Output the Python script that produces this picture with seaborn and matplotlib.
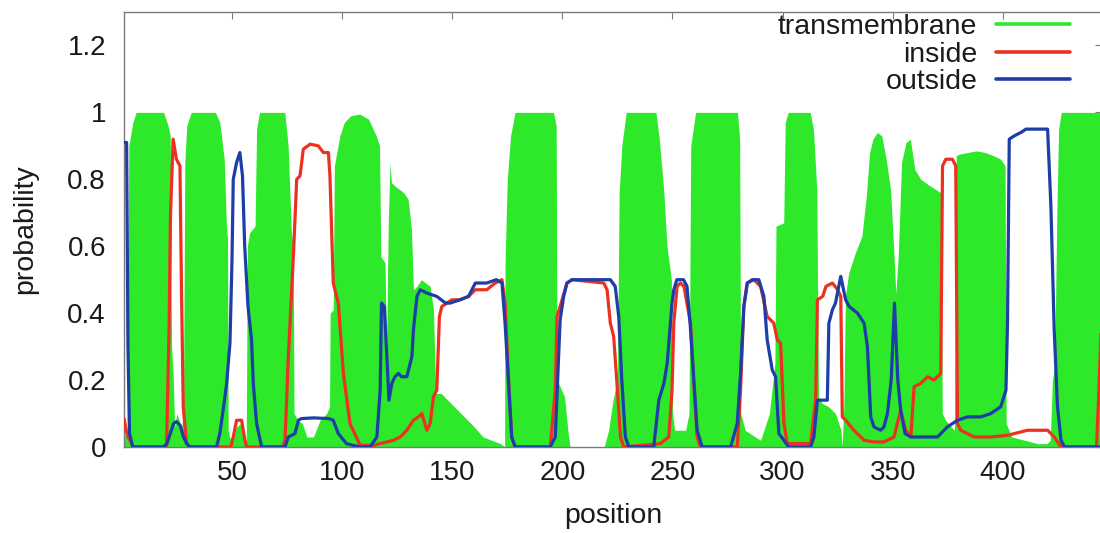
import matplotlib
matplotlib.use("Agg")
import matplotlib.pyplot as plt
from matplotlib.lines import Line2D
from matplotlib.ticker import FuncFormatter
import seaborn as sns

# ---------------- data ----------------
# transmembrane posterior probability (knots along the sequence)
tm_pos = [1, 1.5, 2.5, 3.2, 5, 6.5, 19, 21, 22, 22.6, 23.3, 24, 25, 26, 27, 28, 28.6, 29.5, 31.5,
          42.5, 44.5, 46.5, 47.5, 48, 48.3, 49, 50, 52, 54, 55.5, 56.5, 57, 58, 60.5, 61.2, 62.5,
          74, 75.5, 77, 77.8, 78.2, 80, 82, 84, 87, 90, 93, 94.3, 94.6, 96, 96.5, 99, 101, 104,
          108, 112, 115.5, 117, 117.6, 118.5, 119.5, 120.2, 121, 121.8, 122.4, 124, 126, 128, 130,
          131.5, 132.4, 134, 136, 138, 140, 141.5, 142.5, 145, 148, 151, 154, 157, 160, 164, 168,
          172, 173.8, 174, 175, 176.5, 178.5, 196, 197.2, 197.6, 199, 201, 202.5, 203.5, 219,
          221, 223, 225, 225.8, 227, 229, 242.5, 244, 246, 247.5, 249.5, 250, 251, 256, 257.5,
          258.3, 260.5, 279.5, 280.5, 281, 283, 290, 294, 296.5, 297, 300.5, 301.2, 302.5,
          312.5, 314, 315.5, 316.3, 318, 321, 324, 326.5, 327, 327.8, 328.5, 330, 333, 336, 338,
          339.5, 341, 343, 345, 347, 349, 350.6, 351.4, 352.5, 354, 356, 358, 360, 362.7, 367,
          371.8, 372.5, 374, 378, 378.8, 380, 384, 388, 392, 396, 399, 401, 401.5, 404, 410,
          416, 420, 421.5, 422.5, 423.5, 424.5, 425.3, 426.5, 445]
tm_val = [0.0, 0.05, 0.05, 0.9, 0.97, 1.0, 1.0, 0.96, 0.93, 0.3, 0.22, 0.06, 0.1, 0.08, 0.05, 0.1,
          0.85, 0.96, 1.0,
          1.0, 0.97, 0.86, 0.66, 0.62, 0.05, 0.03, 0.01, 0.06, 0.07, 0.03, 0.02, 0.6, 0.64, 0.66,
          0.95, 1.0,
          1.0, 0.9, 0.64, 0.6, 0.1, 0.08, 0.07, 0.03, 0.03, 0.08, 0.1, 0.12, 0.4, 0.41, 0.84,
          0.93, 0.97, 0.99,
          0.995, 0.98, 0.93, 0.9, 0.57, 0.56, 0.55, 0.3, 0.68, 0.85, 0.79, 0.78, 0.77, 0.76, 0.74,
          0.65, 0.47, 0.48, 0.5, 0.49, 0.48, 0.41, 0.16, 0.16, 0.14, 0.12, 0.1, 0.08, 0.06, 0.03,
          0.02,
          0.01, 0.0, 0.55, 0.8, 0.93, 1.0, 1.0, 0.96, 0.2, 0.18, 0.15, 0.05, 0.0, 0.0,
          0.05, 0.14, 0.2, 0.76, 0.9, 1.0, 1.0, 0.92, 0.77, 0.6, 0.5, 0.1, 0.05, 0.05, 0.1,
          0.9, 1.0, 1.0, 0.92, 0.1, 0.05, 0.02, 0.1, 0.25, 0.66, 0.67, 0.97, 1.0,
          1.0, 0.95, 0.77, 0.15, 0.13, 0.12, 0.1, 0.05, 0.0, 0.12, 0.45, 0.52, 0.58, 0.63, 0.75,
          0.88, 0.92, 0.94, 0.93, 0.86, 0.77, 0.57, 0.46, 0.57, 0.85, 0.91, 0.92, 0.83, 0.8, 0.78,
          0.76, 0.1, 0.08, 0.05, 0.87, 0.875, 0.88, 0.885, 0.88, 0.87, 0.86, 0.84, 0.07, 0.03,
          0.02,
          0.01, 0.01, 0.02, 0.2, 0.24, 0.7, 0.95, 1.0, 1.0]

# inside posterior probability
in_pos = [1, 2, 2.9, 5.2, 20.3, 21.5, 22.1, 23.3, 24.8, 26.4, 27.1, 27.9, 29.4, 31, 49.5, 50.6,
          52.1, 54.4, 55.9, 56.7, 73, 74.1, 75.6, 77.9, 79.4, 80.9, 82.4, 85.5, 89.2, 91.5, 93.8,
          94.5, 96, 98.3, 100.6, 103.6, 108.2, 114.2, 120.3, 123.3, 126.4, 129.4, 132.4, 134.7,
          136.2, 138.5, 140, 141.5, 143, 144.2, 145.3, 147.6, 149.8, 153.6, 157.4, 160.5, 165.7,
          169.5, 172.6, 174, 175.6, 177, 178.6, 194.5, 196.8, 197.6, 199, 202.1, 204.4, 218.8,
          220.3, 221.8, 223.3, 224.8, 226.4, 227.9, 244.5, 248.3, 249.8, 250.6, 252.1, 253.6,
          255.2, 258.2, 259.7, 261.2, 262.7, 279.4, 280.9, 282.4, 283.9, 287, 290, 293, 296,
          297.6, 299.1, 300.6, 302.1, 312.7, 315, 315.8, 318.2, 319.7, 322.6, 325, 326.4, 327.1,
          328.6, 332.4, 337, 341.5, 346, 350.6, 353.6, 355.9, 358.2, 359.7, 362.7, 365.8, 368.8,
          371.8, 372.6, 374.1, 377.1, 378.6, 379.4, 380.9, 387, 394.5, 402.1, 405.2, 411.2,
          420.3, 423.3, 426.4, 442.5, 443.5, 445]
in_val = [0.085, 0.05, 0.03, 0.0, 0.0, 0.37, 0.69, 0.92, 0.86, 0.84, 0.47, 0.12, 0.01, 0.0, 0.0,
          0.03, 0.08, 0.08, 0.02, 0.0, 0.0, 0.02, 0.27, 0.57, 0.8, 0.81, 0.89, 0.905, 0.9, 0.88,
          0.88, 0.81, 0.49, 0.43, 0.22, 0.07, 0.005, 0.005, 0.015, 0.02, 0.03, 0.05, 0.08, 0.09,
          0.1, 0.05, 0.07, 0.15, 0.17, 0.39, 0.42, 0.43, 0.44, 0.44, 0.45, 0.47, 0.47,
          0.49, 0.5, 0.43, 0.2, 0.03, 0.0, 0.0, 0.17, 0.39, 0.42, 0.49, 0.5, 0.49,
          0.47, 0.37, 0.33, 0.19, 0.03, 0.0, 0.01, 0.03, 0.17, 0.37, 0.48, 0.49,
          0.48, 0.37, 0.19, 0.03, 0.0, 0.0, 0.17, 0.42, 0.49, 0.5, 0.48, 0.39, 0.37,
          0.32, 0.31, 0.07, 0.01, 0.01, 0.14, 0.44, 0.45, 0.48, 0.49, 0.47, 0.45, 0.09,
          0.08, 0.05, 0.02, 0.015, 0.015, 0.03, 0.11, 0.05, 0.03, 0.18, 0.19, 0.21, 0.2,
          0.22, 0.84, 0.86, 0.86, 0.84, 0.07, 0.05, 0.03, 0.03, 0.035, 0.04, 0.05,
          0.05, 0.03, 0.0, 0.0, 0.15, 0.42]

# outside posterior probability
out_pos = [1, 2.2, 2.8, 3.5, 5, 18.8, 20.5, 22, 23.5, 24.8, 26.5, 28, 29.5, 31, 43, 44.5, 46,
           47.6, 49.1, 50, 50.6, 52.1, 53.6, 54.8, 55.8, 57.3, 58.9, 59.7, 61.2, 63.5, 74.1, 75.6,
           78.6, 80.2, 81.5, 87, 94, 96, 98.3, 102, 108, 112.7, 115.8, 117.3, 117.9, 119.2,
           121.3, 122.6, 124, 125.6, 127, 129.4, 131.7, 132.4, 134, 135.5, 138.5, 143, 147, 149,
           153.6, 157.4, 160.5, 165.7, 170, 172.6, 174, 175.6, 177, 178.6, 194.5, 196.8, 198.3,
           199, 200.6, 202.1, 204.4, 221.8, 224, 225.6, 227, 228.6, 230.2, 241.5, 243.8, 246.1,
           247.6, 249.8, 250.6, 252, 255, 256.6, 258, 259.7, 261.2, 263.5, 276.4, 279.4, 280.9,
           282.4, 284, 286.2, 289.2, 291.5, 293, 295.3, 296.8, 298.3, 300.6, 302.7, 312.7,
           314.2, 315.8, 320.3, 321, 322.6, 324, 326.4, 328.6, 330.2, 334, 337, 338.5, 340,
           341.5, 344.5, 346, 347.6, 349.3, 350.8, 352.3, 353.6, 355.6, 358.2, 370.3, 374.8,
           379.4, 383.9, 390, 394.5, 399, 401.4, 402.1, 402.9, 405.2, 408.2, 410.5, 420.3,
           421.8, 423.3, 424.8, 426.4, 428, 445]
out_val = [0.91, 0.91, 0.3, 0.04, 0.0, 0.0, 0.01, 0.04, 0.07, 0.076, 0.065, 0.03, 0.01, 0.0, 0.0,
           0.04, 0.11, 0.19, 0.31, 0.55, 0.8, 0.85, 0.88, 0.81, 0.6, 0.42, 0.32, 0.19, 0.07, 0.0,
           0.0, 0.03, 0.04, 0.08, 0.085, 0.087, 0.085, 0.08, 0.04, 0.01, 0.0, 0.0, 0.03, 0.17,
           0.43, 0.42, 0.14, 0.19, 0.21, 0.22, 0.21, 0.21, 0.27, 0.35, 0.45, 0.47, 0.46, 0.45,
           0.43, 0.43, 0.44, 0.45, 0.49, 0.49, 0.5, 0.49, 0.37, 0.19, 0.03, 0.0, 0.0, 0.03, 0.27,
           0.38, 0.45, 0.49, 0.5, 0.5, 0.48, 0.39, 0.2, 0.03, 0.0, 0.0, 0.14, 0.19,
           0.25, 0.43, 0.47, 0.5, 0.5, 0.48, 0.37, 0.2, 0.05, 0.0, 0.0, 0.07, 0.22,
           0.42, 0.49, 0.5, 0.5, 0.45, 0.32, 0.23, 0.21, 0.04, 0.02, 0.0, 0.0,
           0.03, 0.14, 0.14, 0.37, 0.41, 0.43, 0.51, 0.44, 0.42, 0.4, 0.37, 0.3, 0.09,
           0.06, 0.05, 0.06, 0.1, 0.2, 0.43, 0.2, 0.11, 0.04, 0.03, 0.03, 0.06,
           0.08, 0.09, 0.09, 0.1, 0.12, 0.17, 0.37, 0.92, 0.93, 0.94, 0.95, 0.95,
           0.72, 0.35, 0.12, 0.02, 0.0, 0.0]

x_ticks = [50, 100, 150, 200, 250, 300, 350, 400]
y_ticks = [0, 0.2, 0.4, 0.6, 0.8, 1.0, 1.2]
series_labels = ["transmembrane", "inside", "outside"]
x_label = "position"
y_label = "probability"

# ---------------- style ----------------
GREEN = "#2ee82a"
RED = "#ec3120"
BLUE = "#1d3da8"
SPINE = "#7a7a7a"

sns.set_style("white")
plt.rcParams["font.family"] = ["Liberation Sans", "DejaVu Sans"]

W, H = 1100, 533
fig = plt.figure(figsize=(W / 100, H / 100), dpi=100)
ax = fig.add_axes([124 / W, (H - 447) / H, 978 / W, 435 / H])

ax.fill_between(tm_pos, 0, tm_val, color=GREEN, linewidth=0, zorder=1)
sns.lineplot(x=in_pos, y=in_val, ax=ax, color=RED, linewidth=2.3, estimator=None,
             sort=False, zorder=3)
sns.lineplot(x=out_pos, y=out_val, ax=ax, color=BLUE, linewidth=2.3, estimator=None,
             sort=False, zorder=4)

ax.set_xlim(1, 445)
ax.set_ylim(0, 1.3)
ax.set_xticks(x_ticks)
ax.set_yticks(y_ticks)
ax.yaxis.set_major_formatter(FuncFormatter(lambda v, p: "%g" % v))

for s in ax.spines.values():
    s.set_color(SPINE)
    s.set_linewidth(1.0)

ax.tick_params(axis="both", which="major", direction="in", length=5, width=0.8,
               color=SPINE, labelsize=20, labelcolor="#1a1a1a", top=True, right=True)
ax.tick_params(axis="y", pad=13)
ax.tick_params(axis="x", pad=9.5)

ax.set_xlabel(x_label, fontsize=20.5, color="#1a1a1a")
ax.set_ylabel(y_label, fontsize=20.5, color="#1a1a1a")
ax.xaxis.set_label_coords(0.5, -0.128)
ax.yaxis.set_label_coords(-0.088, 0.5)

handles = [Line2D([], [], color=c, linewidth=2.6) for c in (GREEN, RED, BLUE)]
leg = ax.legend(handles, series_labels, loc="upper right",
                bbox_to_anchor=(1070 / W, (H - 14) / H), bbox_transform=fig.transFigure,
                frameon=False, markerfirst=False, fontsize=20.5, handlelength=2.6,
                handletextpad=0.65, labelspacing=0.06, borderpad=0, borderaxespad=0)
for t in leg.get_texts():
    t.set_color("#1a1a1a")

fig.savefig("out.png", dpi=100)
